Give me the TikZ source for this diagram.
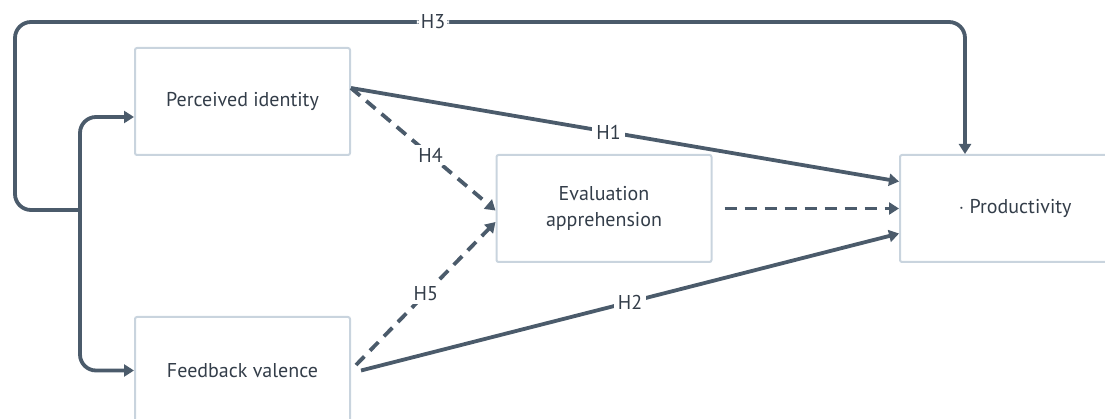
\documentclass[tikz,border=0pt]{standalone}
\usepackage{fontspec}
\setmainfont{PT Sans}
\usetikzlibrary{arrows.meta,calc}
\definecolor{edgec}{HTML}{4B5B6B}
\definecolor{boxc}{HTML}{C9D4DE}
\definecolor{txtc}{HTML}{333D49}
\tikzset{
  box/.style={draw=boxc, line width=2pt, rounded corners=2pt, minimum width=215pt, minimum height=107pt, text=txtc, font=\fontsize{20}{26}\selectfont, align=center, inner sep=0pt},
  conn/.style={draw=edgec, line width=3.8pt},
  arr/.style={conn, -{Triangle[length=10pt,width=12pt]}},
  dsh/.style={dash pattern=on 12pt off 8pt},
  lbl/.style={fill=white, text=txtc, font=\fontsize{20}{22}\selectfont, inner xsep=4pt, inner ysep=3pt}
}
\begin{document}
\begin{tikzpicture}[x=1pt,y=-1pt]
\useasboundingbox (0,0) rectangle (1105,419);
\clip (0,0) rectangle (1105,419);
\node[box] (pi) at (242.5,101.5) {Perceived identity};
\node[box] (fb) at (242.5,370.5) {Feedback valence};
\node[box] (ea) at (604,208.5) {Evaluation\\apprehension};
\node[box, minimum width=230pt] (pr) at (1015,208.5) {$\cdot$ Productivity};
\coordinate (j) at (80,210);
% H3 loop
\draw[arr, rounded corners=16pt] (j) -- (15,210) -- (15,22) -- node[lbl,pos=0.44]{H3} (965,22) -- ([xshift=-50pt]pr.north);
% branches
\draw[arr, rounded corners=16pt] (j) |- ([yshift=-15.5pt]pi.west);
\draw[arr, rounded corners=16pt] (j) |- (fb.west);
% H1
\draw[arr] ([yshift=13.5pt]pi.east) -- node[lbl,pos=0.47]{H1} ([yshift=27pt]pr.west);
% H4
\draw[arr,dsh] ([yshift=13.5pt]pi.east) -- node[lbl,pos=0.55]{H4} ([yshift=-2pt]ea.west);
% H5
\draw[arr,dsh] ([xshift=5pt,yshift=5.5pt]fb.east) -- node[lbl,pos=0.5]{H5} ([yshift=-13.5pt]ea.west);
% H2
\draw[arr] ([xshift=10pt]fb.east) -- node[lbl,pos=0.5]{H2} ([yshift=-25pt]pr.west);
% mediator
\draw[arr,dsh] ([xshift=12pt]ea.east) -- (pr.west);
\end{tikzpicture}
\end{document}
